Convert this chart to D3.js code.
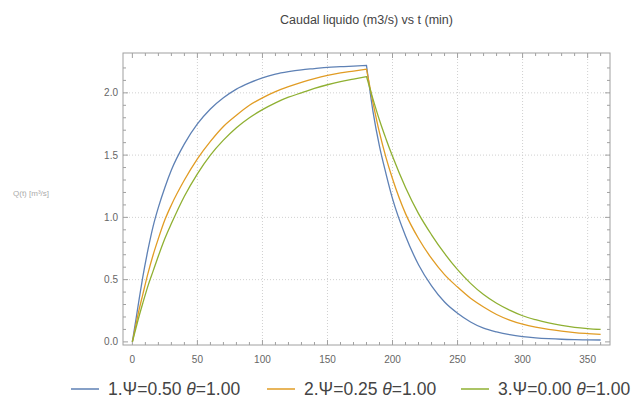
<!DOCTYPE html>
<html><head><meta charset="utf-8">
<script src="https://cdnjs.cloudflare.com/ajax/libs/d3/7.8.5/d3.min.js"></script>
<style>html,body{margin:0;padding:0;background:#fff;}svg{display:block;font-family:"Liberation Sans",Arial,sans-serif;}</style>
</head><body><svg id="c" width="639" height="402"></svg>
<script>
const tRise = [0,2,5,8,12,16,20,25,30,40,50,60,70,80,90,100,110,120,130,140,150,160,170,180];
const tFall = [180,185,190,195,200,210,220,230,240,250,260,270,280,290,300,310,320,330,340,350,360];
const q1Rise = [0,0.13,0.33,0.52,0.74,0.93,1.08,1.24,1.38,1.59,1.75,1.87,1.96,2.03,2.08,2.12,2.15,2.17,2.185,2.195,2.205,2.21,2.215,2.22];
const q2Rise = [0,0.1,0.25,0.38,0.55,0.7,0.83,0.98,1.1,1.3,1.47,1.61,1.73,1.82,1.9,1.96,2.01,2.05,2.085,2.115,2.14,2.16,2.175,2.19];
const q3Rise = [0,0.08,0.2,0.31,0.45,0.57,0.69,0.83,0.95,1.17,1.35,1.5,1.62,1.72,1.8,1.865,1.92,1.965,2.0,2.035,2.065,2.09,2.11,2.13];
const q1Fall = [2.22,1.85,1.57,1.35,1.15,0.85,0.62,0.45,0.32,0.23,0.16,0.11,0.08,0.058,0.043,0.033,0.026,0.021,0.018,0.016,0.015];
const q2Fall = [2.19,1.92,1.68,1.48,1.31,1.03,0.83,0.67,0.54,0.44,0.35,0.28,0.22,0.175,0.142,0.118,0.1,0.086,0.075,0.067,0.06];
const q3Fall = [2.13,1.95,1.78,1.63,1.49,1.24,1.03,0.86,0.71,0.58,0.47,0.38,0.31,0.255,0.21,0.178,0.152,0.132,0.117,0.107,0.1];
const seriesNames = ["1.\u03A8=0.50 ", "2.\u03A8=0.25 ", "3.\u03A8=0.00 "];
const thetaText = "=1.00";
const colors = ["#5E81B5", "#E19C24", "#8FB032"];
const xTicks = [0,50,100,150,200,250,300,350];
const yTicks = [0,0.5,1.0,1.5,2.0];
const titleText = "Caudal liquido (m3/s) vs t (min)";
const yLabel = "Q(t) [m\u00B3/s]";

const svg = d3.select("#c");
svg.append("rect").attr("width",639).attr("height",402).attr("fill","#fff");
const L=123,R=610,T=53,B=345;
const x = d3.scaleLinear().domain([-7.2,367.2]).range([L,R]);
const y = d3.scaleLinear().domain([-0.025,2.32]).range([B,T]);

// gridlines
const g = svg.append("g");
g.selectAll("line.gx").data(xTicks.filter(d=>d>0)).enter().append("line")
  .attr("x1",d=>x(d)).attr("x2",d=>x(d)).attr("y1",T).attr("y2",B)
  .attr("stroke","#d0d0d0").attr("stroke-width",1).attr("stroke-dasharray","1,2");
g.selectAll("line.gy").data(yTicks.filter(d=>d>0)).enter().append("line")
  .attr("y1",d=>y(d)).attr("y2",d=>y(d)).attr("x1",L).attr("x2",R)
  .attr("stroke","#d0d0d0").attr("stroke-width",1).attr("stroke-dasharray","1,2");

// frame
svg.append("rect").attr("x",L).attr("y",T).attr("width",R-L).attr("height",B-T)
  .attr("fill","none").attr("stroke","#a0a0a0").attr("stroke-width",1);

// ticks
const xMinor = d3.range(0,361,10).filter(d=>d%50!==0);
const yMinor = d3.range(0,23).map(d=>d/10).filter(d=>Math.abs(d*2-Math.round(d*2))>1e-6);
const tk = svg.append("g").attr("stroke","#a0a0a0").attr("stroke-width",1);
xTicks.forEach(d=>{tk.append("line").attr("x1",x(d)).attr("x2",x(d)).attr("y1",B).attr("y2",B-5);
  tk.append("line").attr("x1",x(d)).attr("x2",x(d)).attr("y1",T).attr("y2",T+5);});
xMinor.forEach(d=>{tk.append("line").attr("x1",x(d)).attr("x2",x(d)).attr("y1",B).attr("y2",B-3);
  tk.append("line").attr("x1",x(d)).attr("x2",x(d)).attr("y1",T).attr("y2",T+3);});
yTicks.forEach(d=>{tk.append("line").attr("y1",y(d)).attr("y2",y(d)).attr("x1",L).attr("x2",L+5);
  tk.append("line").attr("y1",y(d)).attr("y2",y(d)).attr("x1",R).attr("x2",R-5);});
yMinor.forEach(d=>{tk.append("line").attr("y1",y(d)).attr("y2",y(d)).attr("x1",L).attr("x2",L+3);
  tk.append("line").attr("y1",y(d)).attr("y2",y(d)).attr("x1",R).attr("x2",R-3);});

// tick labels
svg.append("g").selectAll("text").data(xTicks).enter().append("text")
  .attr("x",d=>x(d)).attr("y",B+18).attr("text-anchor","middle")
  .attr("font-size",10).attr("fill","#666").text(d=>d);
svg.append("g").selectAll("text").data(yTicks).enter().append("text")
  .attr("x",L-5).attr("y",d=>y(d)+3.5).attr("text-anchor","end")
  .attr("font-size",10).attr("fill","#666").text(d=>d.toFixed(1));

// curves: rising and falling limbs joined at the peak (sharp corner)
const rise = [[tRise,q1Rise],[tRise,q2Rise],[tRise,q3Rise]];
const fall = [[tFall,q1Fall],[tFall,q2Fall],[tFall,q3Fall]];
const line = d3.line().x(d=>x(d[0])).y(d=>y(d[1])).curve(d3.curveMonotoneX);
colors.forEach((c,k)=>{
  const a = rise[k][0].map((t,i)=>[t,rise[k][1][i]]);
  const b = fall[k][0].map((t,i)=>[t,fall[k][1][i]]);
  const d = line(a) + "L" + line(b).slice(1);
  svg.append("path").attr("d",d).attr("fill","none")
    .attr("stroke",c).attr("stroke-width",1.3).attr("stroke-linejoin","miter");
});

// title
svg.append("text").attr("x",(L+R)/2).attr("y",24).attr("text-anchor","middle")
  .attr("font-size",12.5).attr("fill","#444").text(titleText);
// y label
svg.append("text").attr("x",13).attr("y",196).attr("font-size",8).attr("fill","#aaa").text(yLabel);

// legend
const legX = [71,267,461];
const lg = svg.append("g");
seriesNames.forEach((n,k)=>{
  lg.append("line").attr("x1",legX[k]).attr("x2",legX[k]+28).attr("y1",389).attr("y2",389)
    .attr("stroke",colors[k]).attr("stroke-width",1.5);
  const t = lg.append("text").attr("x",legX[k]+37).attr("y",395).attr("font-size",17.5).attr("fill","#444");
  t.append("tspan").text(n);
  t.append("tspan").attr("font-style","italic").text("\u03B8");
  t.append("tspan").text(thetaText);
});
</script></body></html>
